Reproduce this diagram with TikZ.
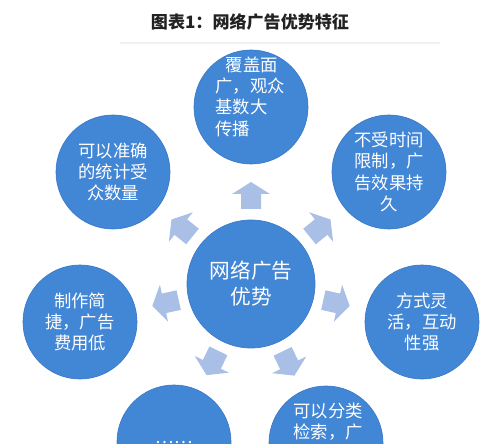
\documentclass[tikz,border=0pt]{standalone}
\usepackage{fontspec}
\setmainfont{Noto Sans CJK SC}
\usetikzlibrary{positioning,calc}
\definecolor{Bubble}{HTML}{4286D6}
\definecolor{BubbleEdge}{HTML}{3B7AC6}
\definecolor{Pointer}{HTML}{A9BFE6}
\definecolor{Hairline}{HTML}{F0F0F0}
\definecolor{Ink}{HTML}{222222}

\begin{document}
\begin{tikzpicture}[
  x=0.75pt,y=0.75pt,
  bubble/.style={circle,draw=BubbleEdge,line width=.5pt,fill=Bubble,
    minimum size=85.5pt,inner sep=0pt,text=white,align=center,
    font=\fontsize{13}{16}\selectfont},
  hubbubble/.style={bubble,minimum size=96pt,font=\fontsize{15.5}{19.5}\selectfont},
  bubtext/.style={text=white,inner sep=0pt,align=center,font=\fontsize{13}{16}\selectfont},
  pointer/.style={fill=Pointer}
]
\useasboundingbox (0,0) rectangle (500,443);
\clip (0,0) rectangle (500,443);
\node[text=Ink,font=\bfseries\fontsize{12.8}{15}\selectfont] (title) at (250,421) {图表1：网络广告优势特征};
\draw[Hairline,line width=1pt] (120,400) -- (440,400);
\node[hubbubble] (hub) at (251,159) {网络广告\\优势};
\node[bubble] (cover) at (251,336) {};
\node[bubtext,align=left] (covertext) at (250,346.5) {\hspace{.6em}覆盖面\\广，观众\\基数大\\传播};
\node[bubble] (stats) at (113,271) {可以准确\\的统计受\\众数量};
\node[bubble] (time) at (389,271) {不受时间\\限制，广\\告效果持\\久};
\node[bubble] (cost) at (80,121) {制作简\\捷，广告\\费用低};
\node[bubble] (flex) at (422,121) {方式灵\\活，互动\\性强};
\node[bubble] (more) at (174,1) {};
\node[bubtext] (moretext) at (174,0.5) {……};
\node[bubble] (search) at (326,0) {};
\node[bubtext] (searchtext) at (328,21.5) {可以分类\\检索，广};
% block arrows halfway out to each bubble
\foreach \tgt/\ang in {cover/90,stats/141,time/39,cost/192.5,flex/-12.5,more/244,search/296}
  \fill[pointer,shift={($(hub)!.5!(\tgt)$)},rotate=\ang]
    (-13.5,-10) -- (1.5,-10) -- (1.5,-19) -- (13.5,0) -- (1.5,19) -- (1.5,10) -- (-13.5,10) -- cycle;
\end{tikzpicture}
\end{document}
